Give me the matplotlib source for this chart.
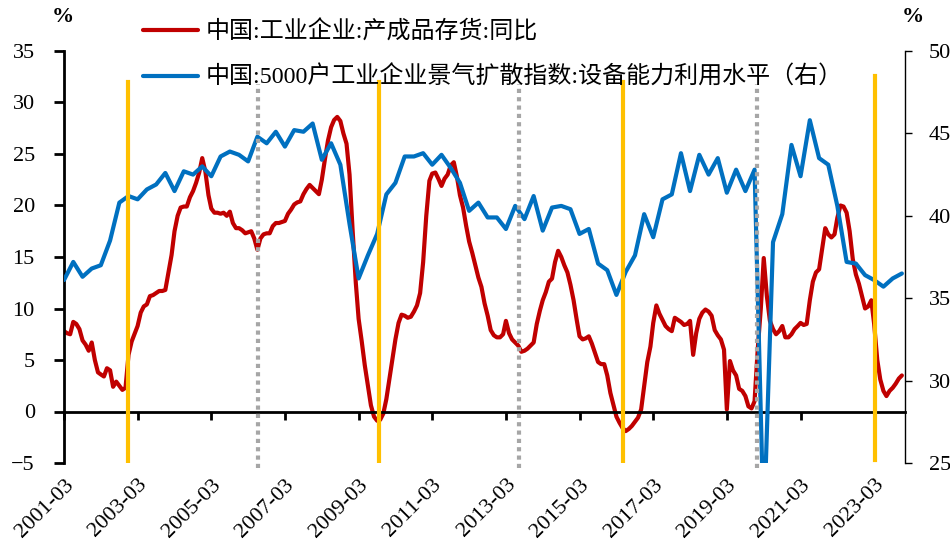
import numpy as np
import pandas as pd
import matplotlib
matplotlib.use("Agg")
import matplotlib.pyplot as plt
import matplotlib.dates as mdates

plt.rcParams['font.family'] = ['Liberation Serif', 'Noto Sans CJK SC']

# 中国:工业企业:产成品存货:同比 (月度, 2001-03 ~ 2023-12)
inventory_yoy = [
    7.8, 7.6, 7.5, 8.7, 8.5, 8.0, 6.9, 6.5, 5.9, 6.7,
    5.0, 3.8, 3.6, 3.4, 4.2, 4.0, 2.4, 2.9, 2.5, 2.1,
    2.3, 5.5, 6.8, 7.6, 8.3, 9.6, 10.2, 10.4, 11.2, 11.3,
    11.5, 11.7, 11.7, 11.8, 13.5, 15.2, 17.5, 19.0, 19.8, 19.9,
    19.9, 20.8, 21.4, 22.2, 23.2, 24.6, 23.3, 21.0, 19.7, 19.3,
    19.3, 19.2, 19.3, 19.0, 19.4, 18.3, 17.8, 17.8, 17.6, 17.3,
    17.4, 17.5, 16.8, 15.7, 16.8, 17.2, 17.3, 17.3, 18.0, 18.3,
    18.3, 18.4, 18.5, 19.2, 19.6, 20.1, 20.3, 20.4, 21.1, 21.6,
    22.0, 21.7, 21.4, 21.1, 22.5, 24.5, 26.3, 27.6, 28.3, 28.6,
    28.2, 27.0, 26.0, 23.0, 17.5, 12.5, 9.0, 6.8, 4.5, 2.5,
    0.6, -0.5, -0.9, -0.8, -0.2, 1.2, 3.2, 5.2, 7.0, 8.6,
    9.4, 9.3, 9.1, 9.2, 9.7, 10.3, 11.5, 14.5, 19.0, 22.4,
    23.1, 23.2, 22.6, 21.9, 22.6, 23.0, 23.9, 24.2, 22.8, 21.0,
    19.8, 18.0, 16.5, 15.4, 14.2, 13.0, 12.1, 10.5, 9.3, 7.9,
    7.4, 7.2, 7.2, 7.5, 8.8, 7.6, 7.0, 6.7, 6.4, 5.8,
    5.9, 6.1, 6.4, 6.7, 8.5, 9.8, 10.8, 11.6, 12.6, 12.9,
    14.5, 15.6, 15.0, 14.2, 13.5, 12.3, 10.8, 8.9, 7.3, 7.0,
    7.1, 7.3, 6.6, 5.7, 4.8, 4.6, 4.6, 3.5, 1.8, 0.6,
    -0.5, -1.1, -1.6, -1.9, -1.7, -1.4, -1.0, -0.6, 0.2, 2.5,
    4.8, 6.3, 8.6, 10.3, 9.5, 8.9, 8.3, 8.0, 7.8, 9.1,
    8.9, 8.7, 8.4, 8.5, 8.8, 5.5, 7.6, 9.0, 9.6, 9.9,
    9.7, 9.3, 7.9, 7.4, 7.0, 6.0, 0.2, 4.9, 4.0, 3.5,
    2.2, 2.0, 1.5, 0.5, 0.3, 1.0, 6.0, 10.0, 14.9, 11.2,
    8.8, 8.0, 7.5, 7.8, 8.3, 7.2, 7.2, 7.5, 8.0, 8.3,
    8.6, 8.4, 8.5, 10.8, 12.6, 13.5, 13.8, 15.8, 17.8, 17.2,
    16.9, 17.2, 18.8, 20.0, 19.9, 19.3, 17.5, 14.8, 13.3, 12.4,
    11.2, 10.0, 10.2, 10.8, 8.5, 5.0, 3.1, 2.0, 1.5, 2.0,
    2.3, 2.7, 3.2, 3.5,
]

# 中国:5000户工业企业景气扩散指数:设备能力利用水平 (季度)
capacity_util = [
    36.1, 37.2, 36.3, 36.8, 37.0, 38.5, 40.8, 41.2, 41.0, 41.6,
    41.9, 42.6, 41.5, 42.7, 42.5, 43.0, 42.4, 43.6, 43.9, 43.7,
    43.3, 44.8, 44.4, 45.1, 44.2, 45.2, 45.1, 45.6, 43.4, 44.4,
    43.1, 39.5, 36.2, 37.6, 38.9, 41.3, 42.0, 43.6, 43.6, 43.8,
    43.1, 43.7, 42.9, 42.0, 40.3, 40.8, 39.9, 39.9, 39.2, 40.6,
    39.8, 41.2, 39.1, 40.5, 40.6, 40.4, 38.9, 39.2, 37.1, 36.7,
    35.2, 36.6, 37.6, 40.1, 38.7, 41.0, 41.3, 43.8, 41.5, 43.7,
    42.5, 43.5, 41.4, 42.8, 41.5, 42.8, 21.0, 38.4, 40.1, 44.3,
    42.4, 45.8, 43.5, 43.1, 40.6, 37.2, 37.1, 36.4, 36.1, 35.7,
    36.2, 36.5,
]

tick_labels = ['2001-03', '2003-03', '2005-03', '2007-03', '2009-03', '2011-03',
               '2013-03', '2015-03', '2017-03', '2019-03', '2021-03', '2023-03']

# 参考竖线
orange_marks = ['2002-11-21', '2009-09-18', '2016-05-10', '2023-03-10']
gray_marks = ['2006-06-10', '2013-07-10', '2019-12-28']

label_red = '中国:工业企业:产成品存货:同比'
label_blue = '中国:5000户工业企业景气扩散指数:设备能力利用水平（右）'

months = pd.date_range('2001-03-01', periods=len(inventory_yoy), freq='MS')
quarters = pd.date_range('2001-03-01', periods=len(capacity_util), freq='3MS')

fig = plt.figure(figsize=(9.5, 5.53), dpi=100)
ax = fig.add_axes([64 / 950, 90 / 553, 841 / 950, 412 / 553])
ax2 = ax.twinx()

l1, = ax.plot(months, inventory_yoy, color='#C00000', lw=3,
              solid_joinstyle='round', solid_capstyle='round')
l2, = ax2.plot(quarters, capacity_util, color='#0070C0', lw=3,
               solid_joinstyle='round', solid_capstyle='round')

ax.set_ylim(-5, 35)
ax.set_yticks(range(-5, 36, 5))
ax2.set_ylim(25, 50)
ax2.set_yticks(range(25, 51, 5))
ax.set_xlim(pd.Timestamp('2001-03-01'), pd.Timestamp('2024-01-01'))

# 横轴放在0处
tick_dates = pd.to_datetime(tick_labels)
ax.set_xticks(tick_dates)
ax.set_xticklabels([])
ax.spines['bottom'].set_position(('data', 0))
ax.spines['bottom'].set_linewidth(2)
ax.spines['left'].set_linewidth(2)
ax.spines['top'].set_visible(False)
ax.spines['right'].set_visible(False)
ax.tick_params(axis='x', direction='out', length=6, width=2)
ax.tick_params(axis='y', direction='out', length=7, width=2, pad=14, labelsize=16)

for s in ['top', 'bottom', 'left']:
    ax2.spines[s].set_visible(False)
ax2.spines['right'].set_linewidth(1)
ax2.tick_params(axis='y', direction='out', length=5, width=1, pad=12, labelsize=16)

# 日期标签放在图底部
for d, lab in zip(tick_dates, tick_labels):
    ax.text(mdates.date2num(d), -0.03, lab, transform=ax.get_xaxis_transform(),
            rotation=45, rotation_mode='anchor', ha='right', va='top', fontsize=16)

for i, d in enumerate(orange_marks):
    top = 0.94 if i == 3 else 0.925
    bot = 0.008 if i == 3 else 0.0
    ax2.axvline(pd.Timestamp(d), ymin=bot, ymax=top, color='#FFC000', lw=3)
for d in gray_marks:
    ax2.axvline(pd.Timestamp(d), ymin=-0.012, ymax=0.92, color='#A6A6A6', lw=3,
                ls=(0, (1, 1)), clip_on=False)

fig.legend([l1, l2], [label_red, label_blue], loc='upper left',
           bbox_to_anchor=(143 / 950, 1 - 20 / 553), frameon=False, fontsize=17.3,
           handlelength=2.3, handletextpad=0.3, labelspacing=0.95,
           borderpad=0, borderaxespad=0)

fig.text(63 / 950, 1 - 17 / 553, '%', fontsize=16, fontweight='bold', ha='center', va='center')
fig.text(913 / 950, 1 - 17 / 553, '%', fontsize=16, fontweight='bold', ha='center', va='center')

fig.savefig('out.png', dpi=100)
